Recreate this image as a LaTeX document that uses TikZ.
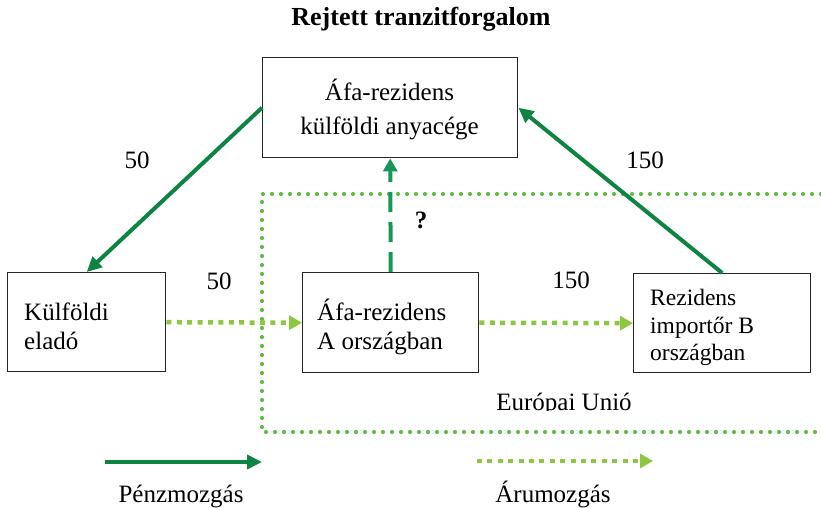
\documentclass[tikz,border=0pt]{standalone}
\usepackage{fontspec}
\setmainfont{Liberation Serif}
\usetikzlibrary{arrows.meta}
\definecolor{money}{RGB}{14,132,66}
\definecolor{moneyq}{RGB}{24,150,90}
\definecolor{goods}{RGB}{141,198,63}
\definecolor{eudot}{RGB}{98,189,70}
\tikzset{
  box/.style={draw=black!85, line width=1.4pt, minimum width=#1, minimum height=100pt, inner sep=0pt, anchor=north west},
  txt/.style={font=\fontsize{25}{33}\selectfont, inner sep=0pt},
  smalltxt/.style={font=\fontsize{23.5}{28}\selectfont, inner sep=0pt},
  moneyarrow/.style={draw=money, line width=4pt, -{Triangle[length=15pt,width=14pt]}},
  qarrow/.style={draw=moneyq, line width=4pt, dash pattern=on 20pt off 10pt, -{Triangle[length=13pt,width=14pt]}},
  goodsarrow/.style={draw=goods, line width=4.5pt, dash pattern=on 5pt off 5.4pt, -{Triangle[length=13pt,width=14pt]}},
  euline/.style={draw=eudot, line width=4.2pt, line cap=round, dash pattern=on 0pt off 9pt},
}
\begin{document}
\begin{tikzpicture}[x=1pt,y=-1pt]
\useasboundingbox (0,0) rectangle (821,508);
% EU region
\draw[euline] (821,194) -- (262,194) -- (262,432) -- (821,432);
\begin{scope}
\clip (470,380) rectangle (660,410);
\node[txt, anchor=base] (eu) at (564,410) {Európai Unió};
\end{scope}
% title
\node[font=\fontsize{26}{30}\selectfont\bfseries, inner sep=0pt, anchor=base] (title) at (421,26) {Rejtett tranzitforgalom};
% boxes
\node[box=255pt] (top) at (262,57) {};
\node[box=158pt, minimum height=99pt] (kul) at (7,272) {};
\node[box=176pt] (A) at (302,272) {};
\node[box=177pt, minimum height=99pt] (rez) at (633,273) {};
% box texts
\node[txt, anchor=base] (topa) at (389.5,101) {Áfa-rezidens};
\node[txt, anchor=base] (topb) at (389.5,135) {külföldi anyacége};
\node[txt, anchor=base west] (kula) at (24,320) {Külföldi};
\node[txt, anchor=base west] (kulb) at (24,349) {eladó};
\node[txt, anchor=base west] (Aa) at (317,320) {Áfa-rezidens};
\node[txt, anchor=base west] (Ab) at (317,349) {A országban};
\node[smalltxt, anchor=base west] (reza) at (650,305) {Rezidens};
\node[smalltxt, anchor=base west] (rezb) at (650,333) {importőr B};
\node[smalltxt, anchor=base west] (rezc) at (650,360) {országban};
% money flows
\draw[moneyarrow] (top.west) -- (kul.north);
\draw[moneyarrow] (rez.north) -- (top.east);
\draw[qarrow] (A.north) -- (top.south);
% goods flows
\draw[goodsarrow] (kul.east) -- (A.west);
\draw[goodsarrow] (A.east) -- (rez.west);
% labels
\node[txt] (l50a) at (137,160) {50};
\node[txt] (l150a) at (645,160) {150};
\node[font=\fontsize{25}{30}\selectfont\bfseries, inner sep=0pt] (q) at (421,220) {?};
\node[txt] (l50b) at (219,281) {50};
\node[txt] (l150b) at (571,280) {150};
% legend
\coordinate (m1) at (105,462);
\coordinate (m2) at (262,462);
\draw[moneyarrow] (m1) -- (m2);
\node[txt, anchor=base] (lm) at (181,502) {Pénzmozgás};
\coordinate (g1) at (477,461);
\coordinate (g2) at (653,461);
\draw[goodsarrow] (g1) -- (g2);
\node[txt, anchor=base] (lg) at (553,502) {Árumozgás};
\end{tikzpicture}
\end{document}
